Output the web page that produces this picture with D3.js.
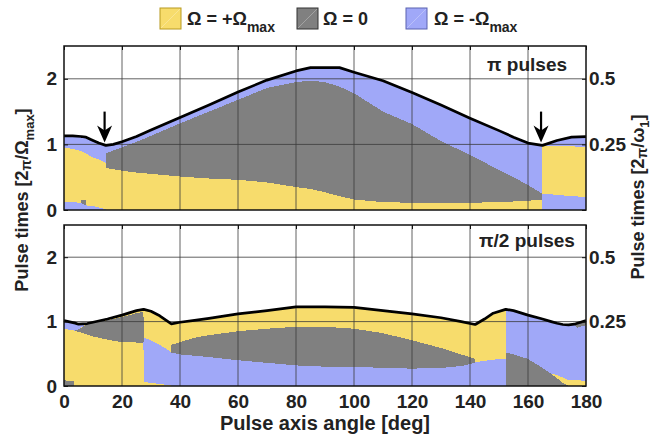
<!DOCTYPE html>
<html>
<head>
<meta charset="utf-8">
<script src="https://cdn.jsdelivr.net/npm/d3@7"></script>
<style>
  body { margin: 0; background: #fff; }
  text { font-family: "Liberation Sans", Arial, sans-serif; font-weight: bold; fill: #222; }
</style>
</head>
<body>
<script>
// ---- data: pi pulses (top panel), boundaries of the stacked bands ----
var topAngles   = [0, 3, 5.9, 6, 7.5, 7.6, 10, 12, 14.4, 14.5, 17, 20, 25, 30, 40, 50, 60, 70, 80, 85,
                   90, 95, 100, 110, 120, 130, 140, 150, 155, 160, 164.9, 165, 170, 175, 180];
var topTotal    = [1.13, 1.13, 1.12, 1.12, 1.11, 1.11, 1.06, 1.02, 0.985, 0.985, 1.00, 1.04, 1.12, 1.22, 1.41, 1.60, 1.80, 1.98, 2.12, 2.17,
                   2.17, 2.17, 2.10, 1.97, 1.79, 1.60, 1.40, 1.21, 1.11, 1.02, 0.985, 0.985, 1.06, 1.11, 1.12];
var topBlueLow  = [0.13, 0.12, 0.11, 0.10, 0.07, 0.07, 0.06, 0.04, 0.01, 0, 0, 0, 0, 0, 0, 0, 0, 0, 0, 0,
                   0, 0, 0, 0, 0, 0, 0, 0, 0, 0, 0, 0.25, 0.23, 0.21, 0.20];
var topGrayLow  = [0.13, 0.12, 0.11, 0.16, 0.16, 0.07, 0.06, 0.04, 0.01, 0, 0, 0, 0, 0, 0, 0, 0, 0, 0, 0,
                   0, 0, 0, 0, 0, 0, 0, 0, 0, 0, 0, 0.25, 0.23, 0.21, 0.20];
var topYellow   = [0.955, 0.93, 0.90, 0.90, 0.86, 0.86, 0.80, 0.77, 0.72, 0.64, 0.62, 0.60, 0.57, 0.55, 0.51, 0.48, 0.46, 0.42, 0.35, 0.32,
                   0.27, 0.21, 0.16, 0.12, 0.11, 0.10, 0.11, 0.12, 0.13, 0.14, 0.16, 0.97, 0.98, 0.97, 0.96];
var topGray     = [0.955, 0.93, 0.90, 0.90, 0.86, 0.86, 0.80, 0.77, 0.72, 0.86, 0.91, 0.955, 1.04, 1.13, 1.32, 1.50, 1.68, 1.86, 1.95, 1.97,
                   1.95, 1.88, 1.78, 1.50, 1.31, 1.05, 0.84, 0.61, 0.50, 0.38, 0.25, 0.97, 0.98, 0.97, 0.96];

// ---- data: pi/2 pulses (bottom panel) ----
var botAngles    = [0, 3.5, 3.6, 5, 8, 10, 15, 20, 25, 27.4, 27.5, 30, 33, 36.9, 37, 40, 45, 50, 60, 70,
                    80, 90, 100, 110, 120, 130, 137, 141.7, 141.8, 145, 148, 152.3, 152.4, 155, 160, 165, 168, 170, 172, 174,
                    176, 177, 180];
var botTotal     = [1.015, 0.98, 0.98, 0.96, 0.97, 0.99, 1.04, 1.10, 1.17, 1.19, 1.19, 1.16, 1.09, 0.97, 0.965, 0.99, 1.02, 1.05, 1.12, 1.17,
                    1.23, 1.23, 1.22, 1.17, 1.12, 1.06, 1.00, 0.955, 0.955, 1.04, 1.13, 1.19, 1.19, 1.17, 1.10, 1.04, 1.00, 0.975, 0.955, 0.95,
                    0.96, 0.975, 1.015];
var botGrayLow   = [0.09, 0.07, 0, 0, 0, 0, 0, 0, 0, 0, 0, 0, 0, 0, 0, 0, 0, 0, 0, 0,
                    0, 0, 0, 0, 0, 0, 0, 0, 0, 0, 0, 0, 0.52, 0.49, 0.42, 0.28, 0.19, 0.12, 0.05, 0,
                    0, 0, 0];
var botYellowLow = [0.89, 0.86, 0.86, 0.84, 0.80, 0.77, 0.72, 0.68, 0.675, 0.67, 0.06, 0.05, 0.03, 0.01, 0, 0, 0, 0, 0, 0,
                    0, 0, 0, 0, 0, 0, 0, 0, 0, 0, 0, 0, 0.52, 0.49, 0.42, 0.28, 0.19, 0.17, 0.13, 0.09,
                    0.09, 0.09, 0.08];
var botBlueMid   = [0.89, 0.86, 0.86, 0.84, 0.80, 0.77, 0.72, 0.68, 0.675, 0.67, 0.75, 0.71, 0.64, 0.53, 0.52, 0.49, 0.47, 0.45, 0.40, 0.36,
                    0.32, 0.30, 0.30, 0.28, 0.27, 0.28, 0.31, 0.36, 0.37, 0.39, 0.41, 0.42, 1.19, 1.17, 1.10, 1.04, 1.00, 0.975, 0.955, 0.95,
                    0.96, 0.905, 0.945];
var botGrayMid   = [0.89, 0.86, 0.86, 0.88, 0.96, 0.98, 1.02, 1.07, 1.13, 1.15, 0.75, 0.71, 0.64, 0.53, 0.64, 0.68, 0.75, 0.79, 0.85, 0.89,
                    0.92, 0.92, 0.89, 0.82, 0.71, 0.59, 0.49, 0.42, 0.37, 0.39, 0.41, 0.42, 1.19, 1.17, 1.10, 1.04, 1.00, 0.975, 0.955, 0.95,
                    0.96, 0.905, 0.945];
var botYellowTop = [0.89, 0.86, 0.86, 0.88, 0.97, 0.99, 1.04, 1.10, 1.17, 1.19, 1.19, 1.16, 1.09, 0.97, 0.965, 0.99, 1.02, 1.05, 1.12, 1.17,
                    1.23, 1.23, 1.22, 1.17, 1.12, 1.06, 1.00, 0.955, 0.955, 1.04, 1.13, 1.19, 1.19, 1.17, 1.10, 1.04, 1.00, 0.975, 0.955, 0.95,
                    0.96, 0.905, 0.945];
var botBlueTop   = [1.015, 0.98, 0.98, 0.96, 0.97, 0.99, 1.04, 1.10, 1.17, 1.19, 1.19, 1.16, 1.09, 0.97, 0.965, 0.99, 1.02, 1.05, 1.12, 1.17,
                    1.23, 1.23, 1.22, 1.17, 1.12, 1.06, 1.00, 0.955, 0.955, 1.04, 1.13, 1.19, 1.19, 1.17, 1.10, 1.04, 1.00, 0.975, 0.955, 0.95,
                    0.96, 0.905, 0.945];

var xTicks = [0, 20, 40, 60, 80, 100, 120, 140, 160, 180];
var yTicks = [0, 1, 2];
var yRightTicks = [0, 0.25, 0.5];
var arrowAngles = [14, 164.5];

var yellow = "#f7dc6c", gray = "#808080", blue = "#a0a8f8";

// ---- svg ----
var svg = d3.select("body").append("svg")
    .attr("width", 656)
    .attr("height", 435);

var x = d3.scaleLinear().domain([0, 180]).range([64, 586]);

var panels = [
  {top: 46, bottom: 210, angles: topAngles, total: topTotal, label: "π pulses", lx: 487, ly: 71, arrows: true,
   layers: [[topBlueLow, blue], [topGrayLow, gray], [topYellow, yellow], [topGray, gray], [topTotal, blue]]},
  {top: 225, bottom: 386, angles: botAngles, total: botTotal, label: "π/2 pulses", lx: 479, ly: 247, arrows: false,
   layers: [[botGrayLow, gray], [botYellowLow, yellow], [botBlueMid, blue], [botGrayMid, gray],
            [botYellowTop, yellow], [botBlueTop, blue], [botTotal, gray]]}
];

panels.forEach(function(p, i) {
  var y = d3.scaleLinear().domain([0, 2.5]).range([p.bottom, p.top]);
  var yR = d3.scaleLinear().domain([0, 0.625]).range([p.bottom, p.top]);
  var g = svg.append("g");

  svg.append("clipPath").attr("id", "clip" + i)
    .append("rect")
    .attr("x", x(0)).attr("y", p.top)
    .attr("width", x(180) - x(0)).attr("height", p.bottom - p.top);

  // stacked bands
  var area = d3.area()
    .x(function(d) { return x(d.a); })
    .y0(function(d) { return y(d.lo); })
    .y1(function(d) { return y(d.hi); });

  p.layers.forEach(function(l, k) {
    var data = p.angles.map(function(a, j) {
      return {a: a, lo: k ? p.layers[k - 1][0][j] : 0, hi: l[0][j]};
    });
    g.append("path")
      .datum(data)
      .attr("d", area)
      .attr("fill", l[1])
      .attr("shape-rendering", "crispEdges")
      .attr("clip-path", "url(#clip" + i + ")");
  });

  // grid
  g.append("g").selectAll("line")
    .data(xTicks.slice(1, -1))
    .join("line")
    .attr("x1", function(d) { return x(d); }).attr("x2", function(d) { return x(d); })
    .attr("y1", p.top).attr("y2", p.bottom)
    .attr("stroke", "#3a3a3a").attr("stroke-width", 0.8);
  g.append("g").selectAll("line")
    .data([1, 2])
    .join("line")
    .attr("x1", x(0)).attr("x2", x(180))
    .attr("y1", function(d) { return y(d); }).attr("y2", function(d) { return y(d); })
    .attr("stroke", "#3a3a3a").attr("stroke-width", 0.8);

  // total pulse time line
  var line = d3.line()
    .x(function(d, j) { return x(p.angles[j]); })
    .y(function(d) { return y(d); });
  g.append("path")
    .datum(p.total)
    .attr("d", line)
    .attr("fill", "none")
    .attr("stroke", "#000")
    .attr("stroke-width", 2.7)
    .attr("stroke-linejoin", "round");

  // frame
  g.append("rect")
    .attr("x", x(0)).attr("y", p.top)
    .attr("width", x(180) - x(0)).attr("height", p.bottom - p.top)
    .attr("fill", "none").attr("stroke", "#111").attr("stroke-width", 1.5);

  // axes
  var yAxis = d3.axisLeft(y).tickValues(yTicks).tickSize(-4).tickPadding(7)
    .tickFormat(d3.format("d"));
  g.append("g").attr("transform", "translate(" + x(0) + ",0)").call(yAxis)
    .call(function(s) { s.select(".domain").remove(); })
    .attr("font-size", 19).attr("font-family", null);

  var yAxisR = d3.axisRight(yR).tickValues(yRightTicks).tickSize(-4).tickPadding(3)
    .tickFormat(function(d) { return d ? d : ""; });
  g.append("g").attr("transform", "translate(" + x(180) + ",0)").call(yAxisR)
    .call(function(s) { s.select(".domain").remove(); })
    .attr("font-size", 19).attr("font-family", null);

  var xTop = d3.axisTop(x).tickValues(xTicks).tickSize(-4).tickFormat("");
  g.append("g").attr("transform", "translate(0," + p.top + ")").call(xTop)
    .call(function(s) { s.select(".domain").remove(); });

  if (i == 1) {
    var xAxis = d3.axisBottom(x).tickValues(xTicks).tickSize(0).tickPadding(9);
    g.append("g").attr("transform", "translate(0," + p.bottom + ")").call(xAxis)
      .call(function(s) { s.select(".domain").remove(); })
      .attr("font-size", 19).attr("font-family", null);
  }
  g.selectAll(".tick line").attr("stroke", "#111");
  g.selectAll(".tick text").attr("fill", "#222");

  // panel label
  g.append("text")
    .attr("x", p.lx).attr("y", p.ly)
    .attr("font-size", 19)
    .text(p.label);

  // arrows marking the minima
  if (p.arrows) {
    arrowAngles.forEach(function(a) {
      var ax = x(a), tip = y(1.03), tail = y(1.5);
      g.append("line")
        .attr("x1", ax).attr("x2", ax).attr("y1", tail).attr("y2", tip - 8)
        .attr("stroke", "#000").attr("stroke-width", 2.2);
      g.append("path")
        .attr("d", "M" + ax + "," + tip + "L" + (ax - 7.5) + "," + (tip - 17) +
                   "L" + ax + "," + (tip - 12) + "L" + (ax + 7.5) + "," + (tip - 17) + "Z")
        .attr("fill", "#000");
    });
  }
});

// axis titles
svg.append("text")
  .attr("x", 325).attr("y", 430)
  .attr("text-anchor", "middle")
  .attr("font-size", 20)
  .text("Pulse axis angle [deg]");

var lt = svg.append("text")
  .attr("transform", "translate(28,200) rotate(-90)")
  .attr("text-anchor", "middle")
  .attr("font-size", 18);
lt.append("tspan").text("Pulse times [2");
lt.append("tspan").attr("font-size", 14).attr("dy", 3).text("π");
lt.append("tspan").attr("dy", -3).text("/Ω");
lt.append("tspan").attr("font-size", 13).attr("dy", 6).text("max");
lt.append("tspan").attr("dy", -6).text("]");

var rt = svg.append("text")
  .attr("transform", "translate(644,197) rotate(-90)")
  .attr("text-anchor", "middle")
  .attr("font-size", 18);
rt.append("tspan").text("Pulse times [2");
rt.append("tspan").attr("font-size", 14).attr("dy", 3).text("π");
rt.append("tspan").attr("dy", -3).text("/ω");
rt.append("tspan").attr("font-size", 13).attr("dy", 5).text("1");
rt.append("tspan").attr("dy", -5).text("]");

// legend
var legendItems = [
  {color: yellow, edge: "#b89a20", text: "Ω = +Ω", sub: "max", bx: 160, tx: 187},
  {color: gray, edge: "#333", text: "Ω = 0", sub: "", bx: 297, tx: 323},
  {color: blue, edge: "#5a62b0", text: "Ω = -Ω", sub: "max", bx: 406, tx: 434}
];
var legend = svg.append("g");
legendItems.forEach(function(d) {
  legend.append("rect")
    .attr("x", d.bx).attr("y", 8).attr("width", 21).attr("height", 21)
    .attr("fill", d.color).attr("stroke", d.edge).attr("stroke-width", 1);
  legend.append("line")
    .attr("x1", d.bx + 1).attr("y1", 28).attr("x2", d.bx + 20).attr("y2", 9)
    .attr("stroke", "#fff").attr("stroke-opacity", 0.35).attr("stroke-width", 0.8);
  var t = legend.append("text").attr("x", d.tx).attr("y", 25).attr("font-size", 18);
  t.append("tspan").text(d.text);
  if (d.sub) t.append("tspan").attr("font-size", 14).attr("dy", 7).text(d.sub);
});
</script>
</body>
</html>
